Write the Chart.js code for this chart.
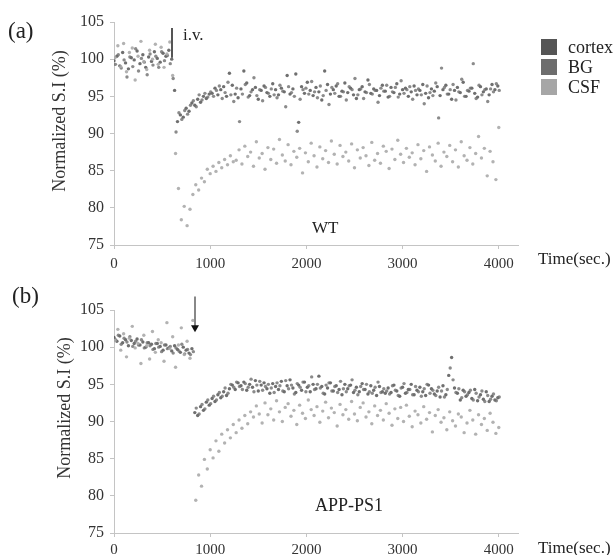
<!DOCTYPE html>
<html>
<head>
<meta charset="utf-8">
<script src="https://cdn.jsdelivr.net/npm/chart.js@4.4.1/dist/chart.umd.min.js"></script>
<style>
  html, body { margin: 0; padding: 0; background: #fff; }
  #wrap { position: relative; width: 614px; height: 555px; overflow: hidden;
          font-family: "Liberation Serif", "Times New Roman", serif; color: #222; }
  canvas { position: absolute; left: 0; }
  .t { position: absolute; white-space: nowrap; line-height: 1; }
  .ytitle { position: absolute; width: 160px; text-align: center; font-size: 18px;
            line-height: 18px; transform: rotate(-90deg); color: #333; white-space: nowrap; }
  .sw { position: absolute; width: 16px; height: 16px; }
</style>
</head>
<body>
<div id="wrap">
  <canvas id="chartA" width="614" height="275" style="top:0"></canvas>
  <canvas id="chartB" width="614" height="280" style="top:275px"></canvas>

  <div class="t" style="left:8px;top:19px;font-size:23px">(a)</div>
  <div class="t" style="left:183px;top:26px;font-size:17px">i.v.</div>
  <div class="t" style="left:312px;top:219px;font-size:17px">WT</div>
  <div class="t" style="left:538px;top:250px;font-size:17px">Time(sec.)</div>
  <div class="ytitle" style="left:-21px;top:112px">Normalized S.I (%)</div>

  <div class="sw" style="left:541px;top:39px;background:#555"></div>
  <div class="sw" style="left:541px;top:59px;background:#6d6d6d"></div>
  <div class="sw" style="left:541px;top:79px;background:#a6a6a6"></div>
  <div class="t" style="left:568px;top:38px;font-size:18px">cortex</div>
  <div class="t" style="left:568px;top:58px;font-size:18px">BG</div>
  <div class="t" style="left:568px;top:78px;font-size:18px">CSF</div>

  <div class="t" style="left:12px;top:284px;font-size:23px">(b)</div>
  <div class="t" style="left:315px;top:496px;font-size:18px">APP-PS1</div>
  <div class="t" style="left:538px;top:539px;font-size:17px">Time(sec.)</div>
  <div class="ytitle" style="left:-16px;top:399px">Normalized S.I (%)</div>
</div>
<script>
// sampling: one reading every STEP seconds, each series starts at its own offset
const STEP = 30;
const X_TICKS = [0, 1000, 2000, 3000, 4000];
const Y_MIN = 75, Y_MAX = 105;

// ---- (a) WT ----
const cortexA_start = 0;
const cortexA = [
  99.8, 100.4, 99.1, 100.9, 99.5, 98.7, 100.2, 99.9, 101.1, 99.4, 100.6, 98.9, 100.3, 99.7, 101.0, 100.1, 99.6, 100.8, 100.4, 101.2, 100.0,
  95.8, 91.6, 92.5, 92.2, 93.4, 93.0, 94.1, 93.8, 94.6, 94.2, 95.0, 94.7, 95.3,
  95.4, 96.1, 95.2, 95.9, 96.3, 95.0, 98.1, 96.5, 95.3, 94.8,
  96.0, 98.4, 96.8, 95.1, 95.9, 96.2, 94.6, 95.8, 96.4, 95.5,
  95.0, 96.7, 95.9, 95.2, 96.1, 95.6, 97.8, 95.3, 96.0, 98.0,
  91.5, 96.3, 95.4, 96.9, 95.8, 95.1, 96.2, 95.6, 94.5, 98.4,
  96.6, 95.3, 95.9, 96.4, 95.0, 95.7, 96.8, 95.5, 96.1, 95.2,
  94.7, 95.9, 96.3, 95.6, 97.2, 95.4, 96.0, 95.8, 95.1, 96.5,
  95.7, 94.9, 96.2, 95.5, 96.7, 95.3, 95.9, 96.1, 95.0, 95.6,
  96.4, 95.2, 95.8, 96.6, 95.4, 94.8, 96.0, 95.7, 96.3, 95.1,
  95.9, 96.5, 95.3, 94.6, 95.8, 96.2, 95.5, 96.9, 95.0, 95.7,
  96.1, 95.4, 94.9, 96.3, 95.6, 96.0, 95.2, 96.6, 95.9, 96.4
];
const bgA_start = 15;
const bgA = [
  99.3, 100.6, 98.8, 99.9, 97.6, 100.3, 99.0, 101.4, 98.4, 100.1, 99.6, 97.9, 100.7, 99.2, 100.4, 98.9, 101.0, 99.8, 100.5, 99.4,
  97.4, 90.2, 92.8, 91.9, 93.1, 92.6, 93.8, 94.4, 93.6, 95.2, 94.5, 95.4, 94.9, 95.6,
  95.0, 95.8, 96.4, 94.7, 95.5, 96.9, 95.2, 94.3, 96.1, 91.6,
  95.3, 96.6, 94.9, 95.6, 97.5, 95.1, 95.9, 94.4, 96.2, 95.4,
  96.0, 95.2, 94.8, 96.5, 95.7, 93.6, 96.3, 95.5, 95.0, 90.3,
  94.6, 95.9, 96.1, 95.3, 97.0, 95.6, 94.8, 96.4, 95.1, 95.8,
  93.9, 96.2, 95.4, 96.7, 95.0, 95.6, 94.5, 96.3, 95.9, 97.4,
  95.2, 96.0, 94.7, 95.5, 96.6, 95.3, 95.8, 94.2, 96.1, 95.7,
  96.5, 95.0, 95.6, 96.2, 94.9, 97.1, 95.4, 95.9, 96.3, 94.6,
  95.8, 96.0, 95.2, 94.0, 96.4, 95.5, 95.1, 96.8, 92.1, 98.8,
  96.2, 95.3, 95.9, 96.6, 94.5, 95.6, 97.3, 95.0, 95.8, 96.1,
  99.4, 94.7, 96.5, 95.2, 95.9, 94.3, 96.0, 95.6, 96.7, 95.8
];
const csfA_start = 10;
const csfA = [
  100.2, 101.8, 99.0, 102.1, 98.3, 100.9, 101.5, 97.2, 100.4, 102.4, 99.7, 98.6, 101.2, 100.0, 102.0, 99.3, 101.6, 98.9, 100.7, 102.3,
  97.8, 87.3, 82.6, 78.4, 80.2, 77.6, 79.8, 81.8, 83.1, 82.4, 84.0, 83.5, 85.2, 84.6, 85.6, 84.9, 86.1, 85.4, 86.5, 85.8, 87.0, 86.2,
  86.4, 87.8, 85.9, 88.3, 86.9, 87.5, 85.6, 88.9, 86.7, 87.3,
  85.2, 88.1, 86.5, 87.9, 86.0, 89.2, 87.1, 86.3, 88.5, 85.8,
  87.6, 86.8, 88.0, 84.7, 87.4, 86.2, 88.7, 87.0, 85.5, 88.2,
  86.6, 87.7, 86.1, 89.0, 87.2, 85.9, 88.4, 86.9, 87.5, 86.3,
  88.6, 85.4, 87.8, 86.7, 88.1, 87.0, 85.7, 88.8, 86.4, 87.3,
  86.0, 88.3, 87.6, 85.3, 87.9, 86.5, 89.1, 87.2, 86.1, 88.0,
  86.8, 87.4, 85.8, 88.5, 86.6, 87.7, 84.9, 88.2, 87.1, 86.3,
  88.7, 85.6, 87.5, 86.9, 88.4, 86.2, 87.8, 85.5, 88.9, 87.0,
  86.4, 88.1, 85.9, 87.3, 89.6, 86.7, 88.0, 84.3, 87.6, 86.2,
  83.8, 90.8
];

// ---- (b) APP-PS1 ----
const cortexB_start = 0;
const cortexB = [
  101.3, 100.8, 101.5, 100.6, 101.0, 100.2, 100.9, 100.5, 101.1, 100.3, 100.7, 100.0, 100.6, 100.4,
  99.8, 100.5, 100.1, 99.6, 100.3, 99.9, 99.5, 100.2, 99.7, 99.3, 100.0, 99.6, 99.2, 99.8,
  91.2, 90.8, 92.0, 91.5, 92.6, 92.2, 93.1, 92.7, 93.6, 93.2, 94.0, 93.5, 94.4, 94.9, 94.3, 95.2,
  94.8, 95.3, 94.2, 95.0, 94.6, 95.5, 94.1, 94.9, 95.2, 94.4,
  93.8, 95.1, 94.7, 94.3, 95.4, 94.0, 94.8, 95.6, 94.5, 93.9,
  94.9, 94.2, 95.3, 94.6, 94.0, 95.0, 94.4, 96.1, 94.7, 93.7,
  94.5, 95.2, 94.1, 94.8, 94.3, 93.6, 95.0, 94.4, 94.9, 93.9,
  94.6, 94.0, 95.1, 94.3, 93.7, 94.8, 94.2, 93.5, 94.7, 94.0,
  93.8, 94.5, 93.9, 94.9, 94.1, 93.4, 94.6, 93.8, 94.3, 95.0,
  93.6, 94.2, 94.6, 94.0, 93.5, 94.9, 94.4, 93.7, 94.1, 93.3,
  94.8, 93.6, 96.2, 98.6, 94.5, 93.8, 92.9, 94.2, 93.4, 93.9,
  93.1, 94.3, 92.8, 93.6, 93.0, 94.0, 92.7, 93.4, 92.9, 93.2
];
const bgB_start = 15;
const bgB = [
  101.0, 101.6, 100.4, 101.2, 100.7, 101.4, 100.1, 100.8, 100.3, 101.0, 99.9, 100.6, 100.2, 99.7,
  100.5, 100.0, 99.4, 100.3, 99.8, 100.1, 99.2, 99.9, 99.5, 100.4, 99.1, 99.7, 99.0, 99.4,
  91.8, 91.0, 92.3, 91.7, 92.9, 92.4, 93.4, 92.9, 93.9, 93.4, 94.5, 93.8, 95.0, 94.6, 95.3, 94.7,
  94.3, 95.1, 94.6, 95.7, 94.0, 94.9, 95.4, 94.2, 94.7, 95.0,
  94.5, 93.9, 95.2, 94.8, 94.1, 95.5, 94.4, 94.9, 93.7, 95.1,
  94.6, 95.3, 94.0, 94.8, 96.0, 94.3, 95.0, 94.5, 93.8, 94.9,
  95.2, 94.1, 94.7, 93.9, 95.4, 94.4, 94.0, 94.8, 95.6, 94.2,
  93.6, 94.7, 94.3, 95.0, 94.0, 93.8, 94.6, 95.3, 93.9, 94.4,
  94.1, 93.7, 94.8, 94.2, 93.5, 94.5, 95.1, 93.9, 94.3, 93.6,
  94.7, 94.0, 93.4, 94.4, 95.0, 93.8, 94.2, 93.5, 94.6, 94.1,
  93.3, 94.3, 97.2, 95.6, 93.9, 94.4, 93.2, 94.0, 93.6, 94.2,
  92.9, 93.8, 93.3, 94.1, 92.7, 93.5, 93.0, 93.7, 92.8, 93.3
];
const csfB_start = 10;
const csfB = [
  100.9, 102.4, 99.6, 101.8, 98.7, 101.2, 102.8, 99.9, 100.5, 97.8, 101.6, 100.2, 98.4, 102.1,
  99.3, 101.0, 100.6, 98.1, 103.3, 99.8, 101.4, 97.3, 100.3, 102.6, 99.0, 100.8, 98.5, 103.6,
  79.4, 82.8, 81.3, 84.9, 83.6, 86.2, 85.1, 87.4, 86.0, 88.3, 87.1, 88.9, 87.8, 89.6, 88.5, 90.2, 89.1, 90.8, 89.7, 91.3,
  90.6, 92.1, 91.0, 89.8, 92.5, 90.9, 91.7, 90.2, 92.8, 91.3,
  90.0, 91.9, 92.4, 90.7, 91.5, 89.6, 92.2, 91.1, 90.4, 92.9,
  91.6, 90.8, 92.0, 89.9, 91.4, 92.6, 90.5, 91.8, 91.2, 89.4,
  92.3, 90.9, 91.6, 90.3, 92.7, 91.0, 90.1, 91.9, 92.5, 90.6,
  91.3, 89.7, 92.1, 90.8, 91.5, 90.2, 92.4, 91.1, 89.5, 91.7,
  90.4, 91.9, 90.0, 92.2, 90.7, 89.3, 91.4, 90.9, 89.8, 92.0,
  90.3, 91.2, 88.6, 90.8, 91.6, 89.9, 90.5, 88.9, 91.3, 90.1,
  89.4, 91.0, 90.6, 88.5, 89.8, 91.5, 90.2, 88.3, 90.9, 89.6,
  90.4, 88.8, 91.1, 89.9, 88.4, 89.2
];

// injection markers (time in s, arrow span in % units)
const ivA = { t: 604, from: 104.2, to: 100.2, color: "#555", head: false };
const ivB = { t: 842, from: 106.8, to: 102.0, color: "#888", head: true };

const COLORS = { cortex: "rgba(75,75,75,0.8)", BG: "rgba(110,110,110,0.8)", CSF: "rgba(170,170,170,0.9)" };
const AXIS = "#c4c4c4";
const FONT = { family: "'Liberation Serif', 'Times New Roman', serif", size: 15 };
const YFONT = { family: "'Liberation Serif', 'Times New Roman', serif", size: 16 };

const ivArrow = {
  id: "ivArrow",
  afterDatasetsDraw(chart, args, o) {
    const { ctx, scales: { x, y } } = chart;
    const px = Math.round(x.getPixelForValue(o.t));
    const y0 = y.getPixelForValue(o.from), y1 = y.getPixelForValue(o.to);
    ctx.save();
    ctx.strokeStyle = o.color;
    ctx.lineWidth = 2;
    ctx.beginPath();
    ctx.moveTo(px, y0);
    ctx.lineTo(px, o.head ? y1 - 5 : y1);
    ctx.stroke();
    if (o.head) {
      ctx.fillStyle = "#111";
      ctx.beginPath();
      ctx.moveTo(px - 4, y1 - 7);
      ctx.lineTo(px + 4, y1 - 7);
      ctx.lineTo(px, y1);
      ctx.closePath();
      ctx.fill();
    }
    ctx.restore();
  }
};

function series(values, start, color) {
  return {
    data: values.map((v, i) => ({ x: start + i * STEP, y: v })),
    backgroundColor: color,
    borderWidth: 0,
    pointRadius: 1.7,
    pointHoverRadius: 1.7
  };
}

function panel(id, sets, iv, padTop, axisH, tickPad) {
  return new Chart(document.getElementById(id), {
    type: "scatter",
    data: { datasets: sets },
    plugins: [ivArrow],
    options: {
      responsive: false,
      animation: false,
      events: [],
      layout: { padding: { left: 10, right: 96, top: padTop, bottom: 0 } },
      plugins: { legend: { display: false }, tooltip: { enabled: false }, ivArrow: iv },
      scales: {
        x: {
          type: "linear", min: 0, max: 4200,
          ticks: { color: "#333", font: FONT, padding: tickPad, maxRotation: 0, autoSkip: false,
                   callback: v => String(v) },
          afterBuildTicks: s => { s.ticks = X_TICKS.map(v => ({ value: v })); },
          afterFit: s => { s.height = axisH; },
          grid: { drawOnChartArea: false, tickLength: 4, color: AXIS },
          border: { color: AXIS }
        },
        y: {
          min: Y_MIN, max: Y_MAX,
          ticks: { stepSize: 5, color: "#333", font: YFONT, padding: 6 },
          afterFit: s => { s.width = 104; },
          grid: { drawOnChartArea: false, tickLength: 4, color: AXIS },
          border: { color: AXIS }
        }
      }
    }
  });
}

panel("chartA", [
  series(csfA, csfA_start, COLORS.CSF),
  series(bgA, bgA_start, COLORS.BG),
  series(cortexA, cortexA_start, COLORS.cortex)
], ivA, 22, 30, 6);

panel("chartB", [
  series(csfB, csfB_start, COLORS.CSF),
  series(bgB, bgB_start, COLORS.BG),
  series(cortexB, cortexB_start, COLORS.cortex)
], ivB, 35, 22, 4);
</script>
</body>
</html>
